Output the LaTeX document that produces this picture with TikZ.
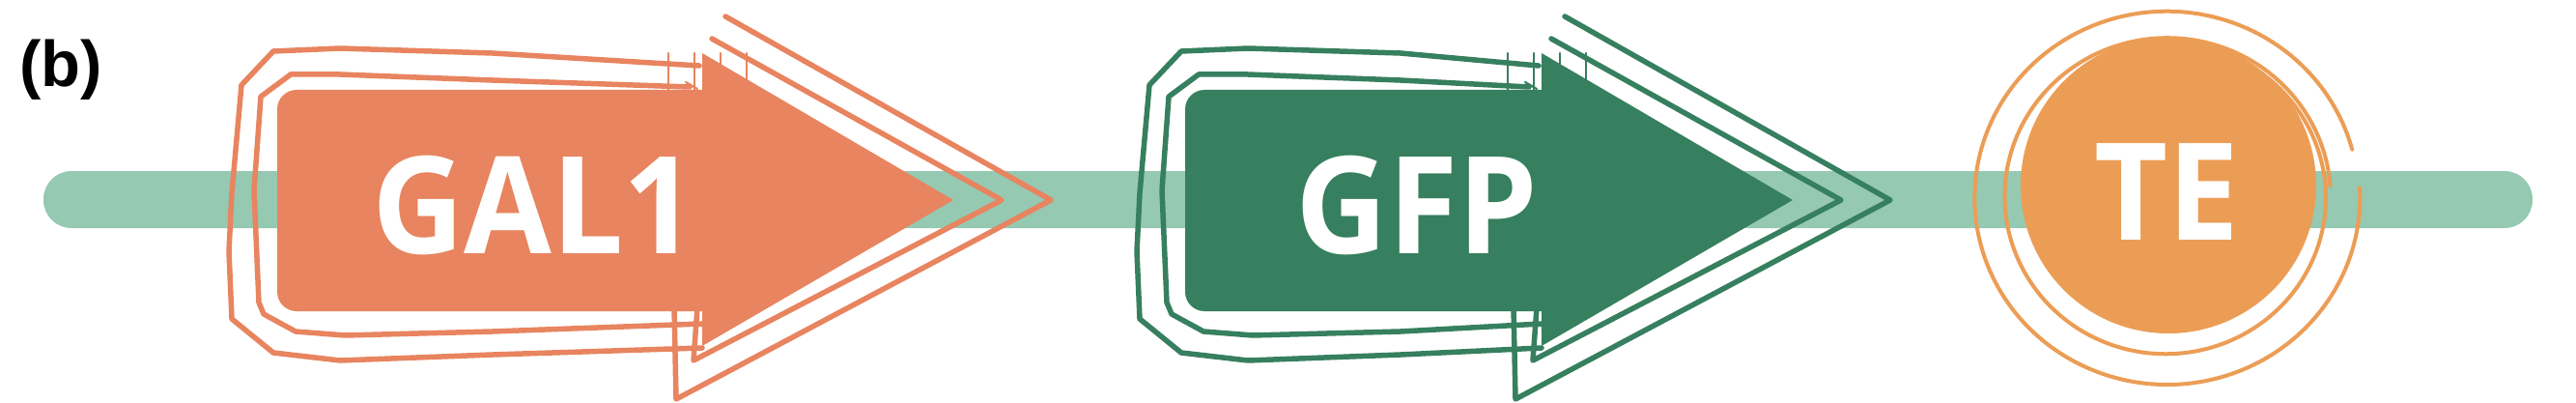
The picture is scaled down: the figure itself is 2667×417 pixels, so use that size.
\documentclass[tikz,border=0pt]{standalone}
\usepackage{fontspec}
\newfontfamily\genefont{Open Sans}[FakeStretch=0.94]
\newfontfamily\tagfont{Liberation Sans}
\definecolor{galc}{HTML}{E8845F}
\definecolor{gfpc}{HTML}{367F5F}
\definecolor{tec}{HTML}{EC9D55}
\definecolor{barc}{HTML}{95C9B2}
\tikzset{
  outl/.style={line width=5.5pt, line join=round, line cap=round},
  tick/.style={line width=2.2pt, line cap=round},
  genetext/.style={text=white, font=\genefont\bfseries\fontsize{140}{150}\selectfont, inner sep=0pt, anchor=base},
  ring/.style={draw=tec, line width=4pt, line cap=round}
}
% #1 body left, #2 head back, #3 colour, #4 name, #5 text, #6 text x
\newcommand\genearrow[6]{%
  \draw[outl, draw=#3] ({#2-3},68) -- ({#1+223},55) -- ({#1+65},50) -- ({#1-4},53)
     -- ({#1-37},88) -- ({#1-47},200) -- ({#1-50},260) -- ({#1-47},330)
     -- ({#1-4},365) -- ({#1+65},373) -- ({#1+223},367) -- ({#2},360);
  \draw[outl, draw=#3] ({#2+24},17) -- ({#2+361},207) -- ({#2-27},413) -- ({#2-29},318);
  \draw[outl, draw=#3] ({#2-13},90) -- ({#1+223},83) -- ({#1+65},77) -- ({#1+14},77)
     -- ({#1-17},100) -- ({#1-24},197) -- ({#1-19},313) -- ({#1-14},325)
     -- ({#1+19},343) -- ({#1+70},347) -- ({#1+223},343) -- ({#2},335);
  \draw[outl, draw=#3] ({#2+10},40) -- ({#2+310},207) -- ({#2-9},373) -- ({#2-5},318);
  \draw[tick, draw=#3] ({#2-35},55) -- ({#2-35},93);
  \draw[tick, draw=#3] ({#2-8},55) -- ({#2-8},93);
  \draw[tick, draw=#3] ({#2+19},55) -- ({#2+19},72);
  \draw[tick, draw=#3] ({#2+46},55) -- ({#2+46},84);
  \draw[tick, draw=#3] ({#2-17},85) -- ({#2-5},92);
  \fill[#3, rounded corners=20] (#1,93) rectangle ({#2+30},322);
  \fill[#3] (#2,55) -- ({#2+260},207) -- (#2,358) -- cycle;
  \node[genetext] (#4) at (#6,262) {#5};
}
\begin{document}
\begin{tikzpicture}[x=1pt, y=-1pt]
\useasboundingbox (0,0) rectangle (2667,417);
\fill[white] (0,0) rectangle (2667,417);
\node[font=\tagfont\bfseries\fontsize{67}{70}\selectfont, anchor=base west, inner sep=0pt] (tag) at (20,90) {(b)};
\fill[barc, rounded corners=29] (45,177) rectangle (2622,236);
\genearrow{287}{727}{galc}{gal}{GAL1}{553}
\genearrow{1227}{1596}{gfpc}{gfp}{GFP}{1467}
% TE terminator
\draw[ring] plot[domain=15:363, samples=140, smooth]
  ({2243.5+(198.5+0.004*(\x-15))*cos(\x)}, {204.5-(192.5+0.004*(\x-15))*sin(\x)});
\draw[ring] plot[domain=4:420, samples=160, smooth]
  ({2243+(170-0.014*(\x-4))*cos(\x)}, {204-(166-0.014*(\x-4))*sin(\x)});
\fill[tec] (2245,192) circle[radius=153];
\node[genetext] (te) at (2243,248) {TE};
\end{tikzpicture}
\end{document}
